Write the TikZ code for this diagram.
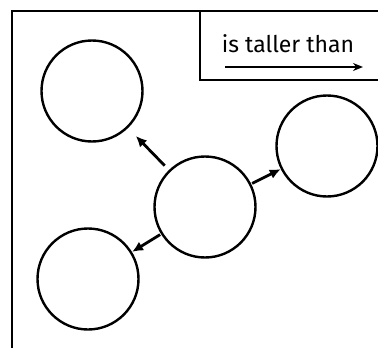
\documentclass[tikz,border=0pt]{standalone}
\usepackage{fontspec}
\setmainfont{Fira Sans}
\usepackage{tikz}
\usetikzlibrary{arrows.meta,positioning}

\begin{document}
\begin{tikzpicture}[
        x=1pt,y=-1pt,
        person/.style={circle,draw,line width=2.4pt,minimum size=101pt,
                       inner sep=0pt},
        rel/.style={-{Latex[length=11pt,width=10pt]},line width=2.8pt},
        frame/.style={line width=2.2pt},
      ]
        \useasboundingbox (0,0) rectangle (378,348);
        % outer frame and legend box
        \draw[frame] (12,348) -- (12,11) -- (378,11);
        \draw[line width=1.8pt] (378,80) -- (200,80) -- (200,11);
        \node[font=\fontsize{23}{24}\selectfont,inner sep=0pt] (lbl) at (288,44) {is taller than};
        \coordinate (la) at (225,67);
        \coordinate (lb) at (363,67);
        \draw[-{Stealth[length=10pt,width=8pt]},line width=2.6pt] (la) -- (lb);
        % people
        \node[person] (tl) at (92,91) {};
        \node[person] (rt) at (327,146) {};
        \node[person] (ctr) at (205,207) {};
        \node[person] (bl) at (88,279) {};
        \draw[rel,shorten >=11pt,shorten <=6pt] (ctr) -- (tl);
        \draw[rel,shorten <=1pt] (ctr) -- (rt);
        \draw[rel,shorten <=1pt] (ctr) -- (bl);
      \end{tikzpicture}
\end{document}
